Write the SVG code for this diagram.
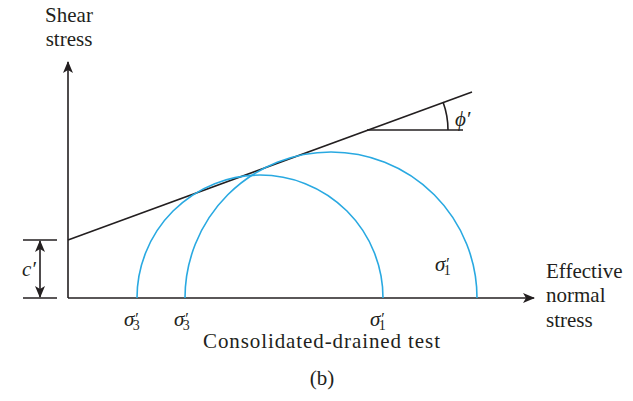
<svg xmlns="http://www.w3.org/2000/svg" width="633" height="401" viewBox="0 0 633 401">
<style>
.ln{stroke:#231f20;stroke-width:1.6;fill:none}
.circ{stroke:#29a9e1;stroke-width:1.6;fill:none}
.t{font-family:"Liberation Serif","Times New Roman",serif;font-size:21px;fill:#231f20}
.s{font-family:"Liberation Serif","Times New Roman",serif;font-size:21px;font-style:italic;fill:#231f20}
.sub{font-size:14px;font-style:normal}
.pr{font-size:16px}
</style>
<defs>
<marker id="ah" viewBox="0 0 12 10" refX="11" refY="5" markerWidth="12" markerHeight="10" markerUnits="userSpaceOnUse" orient="auto-start-reverse">
<path d="M0,0 L12,5 L0,10 L3,5 Z" fill="#231f20"/>
</marker>
</defs>
<rect width="633" height="401" fill="#fff"/>
<g id="connectors">
<line class="ln" x1="68" y1="298" x2="68" y2="62" marker-end="url(#ah)"/>
<line class="ln" x1="68" y1="298" x2="534" y2="298" marker-end="url(#ah)"/>
<line class="ln" x1="68" y1="240" x2="472" y2="92"/>
<line class="ln" x1="367" y1="130" x2="463" y2="130"/>
<path class="ln" d="M448,130 A81,81 0 0 0 443,102"/>
<line class="ln" x1="23" y1="240" x2="57" y2="240"/>
<line class="ln" x1="23" y1="298" x2="57" y2="298"/>
<line class="ln" x1="40" y1="241" x2="40" y2="297" marker-start="url(#ah)" marker-end="url(#ah)"/>
</g>
<g id="circle-small"><path class="circ" d="M137,298 A123,123 0 0 1 383,298"/></g>
<g id="circle-large"><path class="circ" d="M185,298 A146,146 0 0 1 477,298"/></g>
<g id="labels">
<text class="t" x="69" y="22" text-anchor="middle">Shear</text>
<text class="t" x="69" y="46" text-anchor="middle">stress</text>
<text class="t" x="546" y="278">Effective</text>
<text class="t" x="546" y="302">normal</text>
<text class="t" x="546" y="327">stress</text>
<text class="t" x="203" y="348" textLength="237" lengthAdjust="spacing">Consolidated-drained test</text>
<text class="t" x="322" y="385" text-anchor="middle">(b)</text>
<text class="s" x="455" y="126">ϕ′</text>
<text class="s" x="22" y="276">c′</text>
<text class="s" x="124" y="326">σ<tspan class="pr" dy="-2">′</tspan><tspan class="sub" dx="-5" dy="6">3</tspan></text>
<text class="s" x="174" y="326">σ<tspan class="pr" dy="-2">′</tspan><tspan class="sub" dx="-5" dy="6">3</tspan></text>
<text class="s" x="370" y="326">σ<tspan class="pr" dy="-2">′</tspan><tspan class="sub" dx="-5" dy="6">1</tspan></text>
<text class="s" x="435" y="271">σ<tspan class="pr" dy="-2">′</tspan><tspan class="sub" dx="-5" dy="6">1</tspan></text>
</g>
</svg>
